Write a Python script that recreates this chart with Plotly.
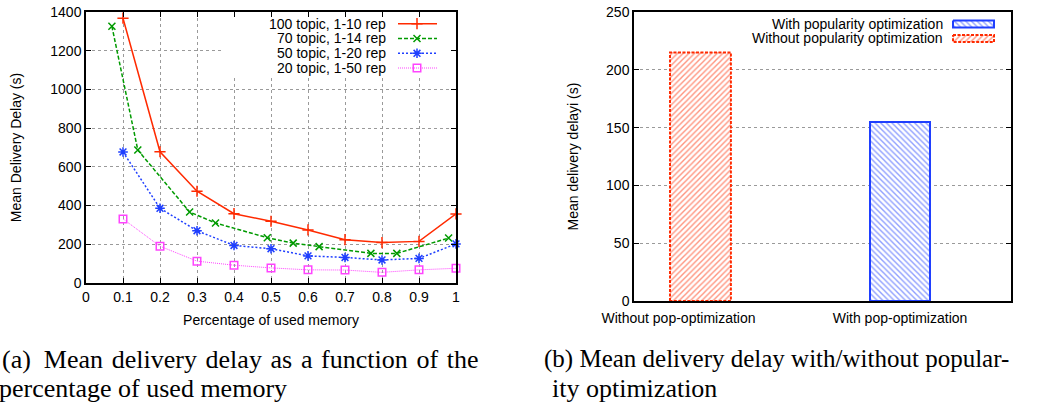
import plotly.graph_objects as go

W, H = 1043, 403

# ---------------- data ----------------
x_main = [0.1, 0.2, 0.3, 0.4, 0.5, 0.6, 0.7, 0.8, 0.9, 1.0]
y_100 = [1368, 678, 474, 358, 319, 274, 224, 209, 215, 357]
x_70 = [0.07, 0.14, 0.28, 0.35, 0.49, 0.56, 0.63, 0.77, 0.84, 0.98]
y_70 = [1326, 687, 367, 310, 234, 206, 188, 153, 153, 232]
y_50 = [677, 386, 270, 194, 177, 140, 132, 119, 127, 202]
y_20 = [331, 190, 113, 92, 78, 68, 67, 55, 68, 76]
series_names = ["100 topic, 1-10 rep", "70 topic, 1-14 rep",
                "50 topic, 1-20 rep", "20 topic, 1-50 rep"]

bar_cats = ["Without pop-optimization", "With pop-optimization"]
bar_vals = [215, 155]
bar_legend = ["With popularity optimization", "Without popularity optimization"]

x_ticks_a = [0, 0.1, 0.2, 0.3, 0.4, 0.5, 0.6, 0.7, 0.8, 0.9, 1]
x_ticktext_a = ["0", "0.1", "0.2", "0.3", "0.4", "0.5", "0.6", "0.7", "0.8", "0.9", "1"]
y_ticks_a = [0, 200, 400, 600, 800, 1000, 1200, 1400]
y_ticks_b = [0, 50, 100, 150, 200, 250]

# ---------------- styles ----------------
RED, GREEN, BLUE, MAG = "#ff2a00", "#009a00", "#1f3fff", "#ff44ff"
styles = [
    dict(color=RED, dash="solid", width=1.5, symbol="cross-thin", size=8),
    dict(color=GREEN, dash="4px,2px", width=1.5, symbol="x-thin", size=7),
    dict(color=BLUE, dash="2px,2px", width=1.5, symbol="asterisk", size=8),
    dict(color=MAG, dash="1px,1px", width=1, symbol="square-open", size=7.5),
]
FONT = "Liberation Sans"


def px(x):
    return x / W


def py(y):
    return 1 - y / H


fig = go.Figure()

xs = [x_main, x_70, x_main, x_main]
ys = [y_100, y_70, y_50, y_20]
for name, xv, yv, st in zip(series_names, xs, ys, styles):
    fig.add_trace(go.Scatter(
        x=xv, y=yv, mode="lines+markers", name=name, showlegend=False,
        line=dict(color=st["color"], dash=st["dash"], width=st["width"]),
        marker=dict(symbol=st["symbol"], size=st["size"], color=st["color"],
                    line=dict(color=st["color"], width=1.5)),
        cliponaxis=False, xaxis="x", yaxis="y"))

# ---------------- bar chart ----------------
bar_x = [0, 1]
bar_w = 0.305
fig.add_trace(go.Bar(
    x=[bar_x[0]], y=[bar_vals[0]], width=bar_w, showlegend=False,
    marker=dict(color="white", line=dict(width=0),
                pattern=dict(shape="/", fgcolor=RED, bgcolor="white", size=4, solidity=0.35)),
    xaxis="x2", yaxis="y2"))
fig.add_trace(go.Bar(
    x=[bar_x[1]], y=[bar_vals[1]], width=bar_w, showlegend=False,
    marker=dict(color="white", line=dict(width=2, color=BLUE),
                pattern=dict(shape="\\", fgcolor=BLUE, bgcolor="white", size=4, solidity=0.35)),
    xaxis="x2", yaxis="y2"))
# dashed outline for red bar (derived from data)
x0 = bar_x[0] - bar_w / 2
x1 = bar_x[0] + bar_w / 2
fig.add_trace(go.Scatter(
    x=[x0, x0, x1, x1, x0], y=[0, bar_vals[0], bar_vals[0], 0, 0], mode="lines",
    line=dict(color=RED, width=2, dash="3px,1.5px"), showlegend=False,
    hoverinfo="skip", xaxis="x2", yaxis="y2"))

# ---------------- manual legends (gnuplot style) on overlay axis ----------------
leg_rows_a = [23.7, 38.5, 53.3, 68]
for name, st, yy in zip(series_names, styles, leg_rows_a):
    fig.add_trace(go.Scatter(
        x=[398, 437], y=[yy, yy], mode="lines", showlegend=False, hoverinfo="skip",
        line=dict(color=st["color"], dash=st["dash"], width=st["width"]),
        xaxis="x3", yaxis="y3"))
    fig.add_trace(go.Scatter(
        x=[417], y=[yy], mode="markers", showlegend=False, hoverinfo="skip",
        marker=dict(symbol=st["symbol"], size=st["size"], color=st["color"],
                    line=dict(color=st["color"], width=1.5)),
        xaxis="x3", yaxis="y3"))

leg_rows_b = [24, 38.5]
sw_specs = [(BLUE, "\\", "solid"), (RED, "/", "3px,1.5px")]
for (col, shp, dsh), yy in zip(sw_specs, leg_rows_b):
    fig.add_trace(go.Scatter(
        x=[953, 994, 994, 953, 953], y=[yy - 3.6, yy - 3.6, yy + 3.6, yy + 3.6, yy - 3.6],
        mode="lines", fill="toself", fillcolor="white",
        fillpattern=dict(shape=shp, fgcolor=col, bgcolor="white", size=4, solidity=0.35),
        line=dict(color=col, width=2, dash=dsh), showlegend=False, hoverinfo="skip",
        xaxis="x3", yaxis="y3"))

annotations = []
for name, yy in zip(series_names, leg_rows_a):
    annotations.append(dict(x=px(388), y=py(yy), xref="paper", yref="paper", text=name,
                            showarrow=False, xanchor="right", yanchor="middle",
                            font=dict(family=FONT, size=14, color="black")))
for name, yy in zip(bar_legend, leg_rows_b):
    annotations.append(dict(x=px(945), y=py(yy), xref="paper", yref="paper", text=name,
                            showarrow=False, xanchor="right", yanchor="middle",
                            font=dict(family=FONT, size=14, color="black")))

# captions (justified first line of (a) gets slightly wider word spacing)
CAP = dict(family="Liberation Serif", size=26, color="black")
CAP_B1 = dict(family="Liberation Serif", size=25, color="black")
cap_a1 = "(a)\u00a0\u00a0Mean delivery delay as a function of the".replace(" ", " \u200a")
annotations += [
    dict(x=px(0), y=py(359), xref="paper", yref="paper", xanchor="left", yanchor="middle",
         text=cap_a1, showarrow=False, font=CAP),
    dict(x=px(-3), y=py(388), xref="paper", yref="paper", xanchor="left", yanchor="middle",
         text="percentage of used memory", showarrow=False, font=CAP),
    dict(x=px(542), y=py(359), xref="paper", yref="paper", xanchor="left", yanchor="middle",
         text="(b) Mean delivery delay with/without popular-", showarrow=False, font=CAP_B1),
    dict(x=px(550), y=py(388), xref="paper", yref="paper", xanchor="left", yanchor="middle",
         text="ity optimization", showarrow=False, font=CAP),
]

GRID = dict(showgrid=True, gridcolor="#9a9a9a", griddash="dot", gridwidth=1)
AX = dict(showline=True, linecolor="black", linewidth=1.5, mirror="allticks",
          ticks="inside", ticklen=5, tickcolor="black", zeroline=False, automargin=False,
          tickfont=dict(family=FONT, size=14, color="black"))

fig.update_layout(
    width=W, height=H, margin=dict(l=0, r=0, t=0, b=0, autoexpand=False),
    paper_bgcolor="white", plot_bgcolor="rgba(0,0,0,0)", showlegend=False,
    xaxis=dict(domain=[px(86), px(456)], range=[0, 1], tickvals=x_ticks_a,
               ticktext=x_ticktext_a, anchor="y",
               title=dict(text="Percentage of used memory", standoff=12,
                          font=dict(family=FONT, size=14, color="black")),
               **GRID, **AX),
    yaxis=dict(domain=[py(283), py(12)], range=[0, 1400], tickvals=y_ticks_a, anchor="x",
               title=dict(text="Mean Delivery Delay (s)", standoff=25,
                          font=dict(family=FONT, size=14, color="black")),
               **GRID, **AX),
    xaxis2=dict(domain=[px(634), px(1011)], range=[-0.333, 1.556],
                tickvals=[-0.11, 1], ticktext=bar_cats, anchor="y2",
                showgrid=False, showline=True, linecolor="black", linewidth=1.5,
                mirror=True, ticks="", zeroline=False, automargin=False,
                ticklabelstandoff=3,
                tickfont=dict(family=FONT, size=14, color="black")),
    yaxis2=dict(domain=[py(301), py(12)], range=[0, 250], tickvals=y_ticks_b, anchor="x2",
                title=dict(text="Mean delivery delayi (s)", standoff=24,
                           font=dict(family=FONT, size=14, color="black")),
                **GRID, **AX),
    xaxis3=dict(domain=[0, 1], range=[0, W], visible=False, anchor="y3", fixedrange=True,
                automargin=False),
    yaxis3=dict(domain=[0, 1], range=[H, 0], visible=False, anchor="x3", fixedrange=True,
                automargin=False),
    annotations=annotations,
    bargap=0,
    shapes=[dict(type="rect", xref="x", yref="y", x0=0.365, x1=1.0, y0=1070, y1=1400,
                 fillcolor="white", line=dict(width=0), layer="between")],
)

fig.write_html("out.html", config={"displayModeBar": False},
               post_script="document.body.style.margin='0px';")
